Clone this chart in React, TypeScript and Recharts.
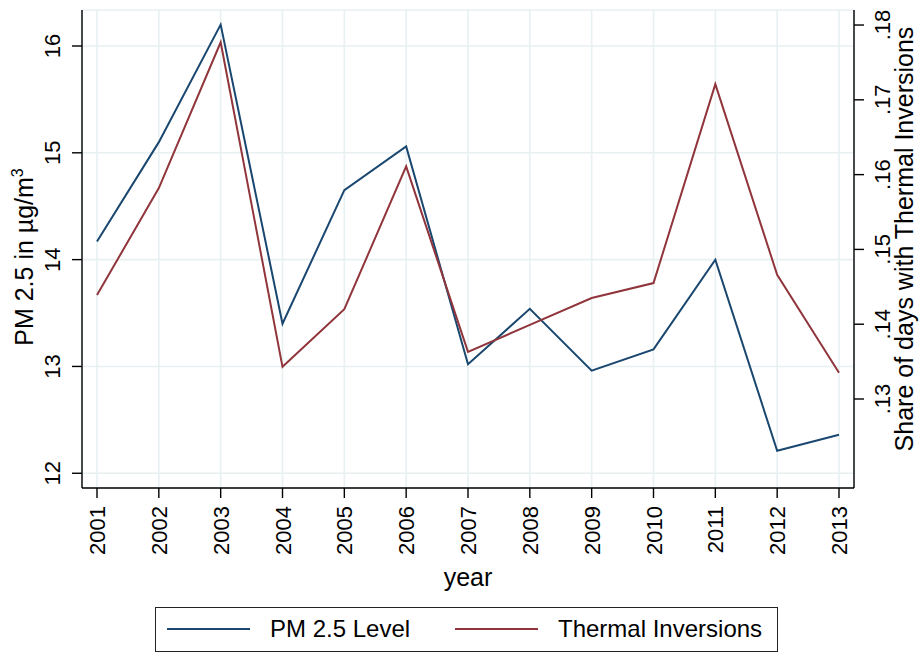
import React from 'react';
import { LineChart, Line, XAxis, YAxis, CartesianGrid } from 'recharts';

const years = [2001, 2002, 2003, 2004, 2005, 2006, 2007, 2008, 2009, 2010, 2011, 2012, 2013];
const pm25Level = [14.17, 15.1, 16.2, 13.4, 14.65, 15.06, 13.02, 13.54, 12.96, 13.16, 14.0, 12.21, 12.36];
const thermalInversions = [0.1439, 0.1582, 0.1777, 0.1343, 0.142, 0.1611, 0.1363, 0.1399, 0.1435, 0.1455, 0.1721, 0.1466, 0.1335];
const leftTicks = [12, 13, 14, 15, 16];
const rightTicks = [0.13, 0.14, 0.15, 0.16, 0.17, 0.18];

const seriesNames = ['PM 2.5 Level', 'Thermal Inversions'];
const seriesColors = ['#1a476f', '#90353b'];

const data = years.map((y, i) => ({ year: y, pm: pm25Level[i], inv: thermalInversions[i] }));

const FONT = '"Liberation Sans", Arial, Helvetica, sans-serif';
const TICK_FS = 22;
const TITLE_FS = 25;
const LEGEND_FS = 24;

const LeftTick = (props: any) => {
  const { x, y, payload } = props;
  const bx = x - 12;
  return (
    <text x={bx} y={y} transform={`rotate(-90, ${bx}, ${y})`} textAnchor="middle" fontSize={TICK_FS} fontFamily={FONT} fill="#000">
      {payload.value}
    </text>
  );
};

const RightTick = (props: any) => {
  const { x, y, payload } = props;
  const bx = x + 26;
  const label = Number(payload.value).toFixed(2).replace(/^0/, '');
  return (
    <text x={bx} y={y} transform={`rotate(-90, ${bx}, ${y})`} textAnchor="middle" fontSize={TICK_FS} fontFamily={FONT} fill="#000">
      {label}
    </text>
  );
};

const BottomTick = (props: any) => {
  const { x, y, payload } = props;
  const bx = x + 8;
  const by = y + 8;
  return (
    <text x={bx} y={by} transform={`rotate(-90, ${bx}, ${by})`} textAnchor="end" fontSize={TICK_FS} fontFamily={FONT} fill="#000">
      {payload.value}
    </text>
  );
};

const LeftTitle = (props: any) => {
  const vb = props.viewBox || { x: 0, y: 10, width: 82, height: 478 };
  const bx = vb.x + 33;
  const cy = vb.y + vb.height / 2 + 8;
  return (
    <text x={bx} y={cy} transform={`rotate(-90, ${bx}, ${cy})`} textAnchor="middle" fontSize={TITLE_FS} fontFamily={FONT} fill="#000">
      PM 2.5 in µg/m
      <tspan fontSize={16} dy={-10}>3</tspan>
    </text>
  );
};

const RightTitle = (props: any) => {
  const vb = props.viewBox || { x: 854, y: 10, width: 66, height: 478 };
  const bx = vb.x + 59;
  const cy = vb.y + vb.height / 2 - 10;
  return (
    <text x={bx} y={cy} transform={`rotate(-90, ${bx}, ${cy})`} textAnchor="middle" fontSize={TITLE_FS} fontFamily={FONT} fill="#000">
      Share of days with Thermal Inversions
    </text>
  );
};

const BottomTitle = (props: any) => {
  const vb = props.viewBox || { x: 82, y: 488, width: 772, height: 165 };
  return (
    <text x={vb.x + vb.width / 2} y={vb.y + 98} textAnchor="middle" fontSize={TITLE_FS} fontFamily={FONT} fill="#000">
      year
    </text>
  );
};

export default function App() {
  return (
    <div style={{ position: 'absolute', left: 0, top: 0, width: 920, height: 653, background: '#fff' }}>
      <LineChart width={920} height={653} data={data} margin={{ top: 10, right: 0, bottom: 0, left: 0 }}>
        <CartesianGrid yAxisId="left" stroke="#e8f0f2" strokeWidth={1.6} vertical={true} horizontal={true} />
        <XAxis
          dataKey="year"
          type="number"
          domain={[2001, 2013]}
          ticks={years}
          padding={{ left: 15, right: 15 }}
          height={165}
          tickSize={10}
          tickMargin={0}
          tick={<BottomTick />}
          axisLine={{ stroke: '#000', strokeWidth: 1.4 }}
          tickLine={{ stroke: '#000', strokeWidth: 1.4 }}
          interval={0}
          label={<BottomTitle />}
        />
        <YAxis
          yAxisId="left"
          orientation="left"
          type="number"
          domain={[11.862, 16.337]}
          allowDataOverflow
          ticks={leftTicks}
          width={82}
          tickSize={10}
          tickMargin={0}
          tick={<LeftTick />}
          axisLine={{ stroke: '#000', strokeWidth: 1.4 }}
          tickLine={{ stroke: '#000', strokeWidth: 1.4 }}
          interval={0}
          label={<LeftTitle />}
        />
        <YAxis
          yAxisId="right"
          orientation="right"
          type="number"
          domain={[0.1181, 0.18201]}
          allowDataOverflow
          ticks={rightTicks}
          width={66}
          tickSize={10}
          tickMargin={0}
          tick={<RightTick />}
          axisLine={{ stroke: '#000', strokeWidth: 1.4 }}
          tickLine={{ stroke: '#000', strokeWidth: 1.4 }}
          interval={0}
          label={<RightTitle />}
        />
        <Line yAxisId="left" type="linear" dataKey="pm" name={seriesNames[0]} stroke={seriesColors[0]} strokeWidth={2} dot={false} isAnimationActive={false} />
        <Line yAxisId="right" type="linear" dataKey="inv" name={seriesNames[1]} stroke={seriesColors[1]} strokeWidth={2} dot={false} isAnimationActive={false} />
      </LineChart>
      <div
        style={{
          position: 'absolute',
          left: 155,
          top: 607,
          width: 623,
          height: 45,
          boxSizing: 'border-box',
          border: '1.5px solid #222',
          background: '#fff',
          fontFamily: FONT,
          fontSize: LEGEND_FS,
          color: '#000',
        }}
      >
        {seriesNames.map((name, i) => (
          <div key={name} style={{ position: 'absolute', left: i === 0 ? 11 : 299, top: 0, height: 42, display: 'flex', alignItems: 'center' }}>
            <div style={{ width: 83, height: 2, background: seriesColors[i] }} />
            <span style={{ marginLeft: 20, whiteSpace: 'nowrap' }}>{name}</span>
          </div>
        ))}
      </div>
    </div>
  );
}
